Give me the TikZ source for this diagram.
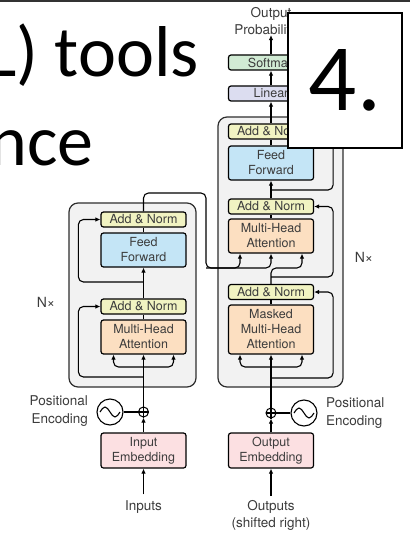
\documentclass[tikz,border=0pt]{standalone}
\usepackage{fontspec}
\setmainfont{TeX Gyre Heros}
\newfontfamily\slidefont{Carlito}
\usetikzlibrary{arrows.meta}

\definecolor{annorm}{HTML}{F1F3C2}
\definecolor{ffblue}{HTML}{C4E5F6}
\definecolor{attorange}{HTML}{FCDFC1}
\definecolor{embpink}{HTML}{FCE0E2}
\definecolor{smgreen}{HTML}{D1EBD4}
\definecolor{linlav}{HTML}{DCDDF0}
\definecolor{stackgray}{HTML}{F2F2F2}
\definecolor{stackedge}{HTML}{2E2E2E}
\definecolor{txtgray}{HTML}{3C3C3C}

\tikzset{
  blk/.style={draw=black, line width=1.2pt, rounded corners=2.5pt, minimum width=85pt,
    inner sep=0pt, align=center, text=txtgray, font=\fontsize{12.5}{15}\selectfont},
  addnorm/.style={blk, fill=annorm, minimum height=15pt},
  sublayer/.style={blk, minimum height=34pt},
  stack/.style={draw=stackedge, fill=stackgray, line width=1.2pt, rounded corners=9pt},
  lbl/.style={text=txtgray, font=\fontsize{13.5}{17.5}\selectfont, inner sep=0pt},
  wire/.style={line width=1.1pt},
  arr/.style={wire, -{Latex[length=5pt,width=4.5pt]}},
  fork/.style={arr, rounded corners=5pt},
  pe/.style={circle, draw, line width=1.1pt, minimum size=26pt, inner sep=0pt},
  plus/.style={circle, draw, line width=1pt, minimum size=10pt, inner sep=0pt},
  bigtext/.style={inner sep=0pt, font=\slidefont\fontsize{72}{72}\selectfont},
}

\begin{document}
\begin{tikzpicture}[x=1pt, y=-1pt]
\useasboundingbox (0,0) rectangle (410,540);
\fill[white] (0,0) rectangle (410,540);
\fill[black!80] (0,0) rectangle (410,2);

% slide text behind the figure
\node[bigtext, anchor=base east] (title1) at (199,77) {L) tools};
\node[bigtext, anchor=base east] (title2) at (94,165) {nce};

% stacks
\draw[stack] (69,203) rectangle (196,387);
\draw[stack] (218,117) rectangle (343,387);
\node[lbl, font=\fontsize{14}{16}\selectfont] (en_n) at (46,302) {N×};
\node[lbl, font=\fontsize{14}{16}\selectfont] (de_n) at (364,257) {N×};

% encoder
\node[addnorm] (en_an2) at (143.5,219.5) {Add \& Norm};
\node[sublayer, fill=ffblue] (en_ff) at (143.5,250) {Feed\\Forward};
\node[addnorm] (en_an1) at (143.5,306.5) {Add \& Norm};
\node[sublayer, fill=attorange] (en_mha) at (143.5,337) {Multi-Head\\Attention};
\node[plus] (en_add) at (143.5,412) {};
\node[pe] (en_pe) at (110,412) {};
\node[lbl, anchor=east, align=right] (en_pelbl) at (88,411) {Positional\\Encoding};
\node[sublayer, fill=embpink, minimum height=35pt] (en_emb) at (143.5,450.5) {Input\\Embedding};
\node[lbl] (inputs) at (143.5,507) {Inputs};

% decoder
\node[lbl, align=center] (outprob) at (271,21) {Output\\Probabilities};
\node[addnorm, fill=smgreen] (softmax) at (271,62.5) {Softmax};
\node[addnorm, fill=linlav] (linear) at (271,93.5) {Linear};
\node[addnorm] (de_an3) at (271,131.5) {Add \& Norm};
\node[sublayer, fill=ffblue] (de_ff) at (271,163) {Feed\\Forward};
\node[addnorm] (de_an2) at (271,206.5) {Add \& Norm};
\node[sublayer, fill=attorange] (de_mha) at (271,236) {Multi-Head\\Attention};
\node[addnorm] (de_an1) at (271,292) {Add \& Norm};
\node[sublayer, fill=attorange, minimum height=49pt] (de_mmha) at (271,329.5) {Masked\\Multi-Head\\Attention};
\node[plus] (de_add) at (271,413) {};
\node[pe] (de_pe) at (304,413) {};
\node[lbl, anchor=west, align=left] (de_pelbl) at (326,413) {Positional\\Encoding};
\node[sublayer, fill=embpink, minimum height=35pt] (de_emb) at (271,450.5) {Output\\Embedding};
\node[lbl, align=center] (outputs) at (271,515.5) {Outputs\\(shifted right)};

% encoder wiring
\coordinate (en_fork) at (143.5,367);
\coordinate (en_r1) at (143.5,377);
\coordinate (en_r2) at (143.5,282);
\coordinate (en_turn) at (206,193);
\coordinate (kv) at (206,268);
\draw[arr] ([yshift=6pt]inputs.north) -- (en_emb.south);
\draw[arr] (en_emb.north) -- (en_add.south);
\draw[wire] (en_pe.east) -- (en_add.west);
\draw[wire] (en_add.north) -- (en_add.south) (en_add.west) -- (en_add.east);
\draw[wire] ([xshift=-10pt]en_pe.center) sin ++(5,-5) cos ++(5,5) sin ++(5,5) cos ++(5,-5);
\draw[arr] (en_add.north) -- (en_mha.south);
\draw[fork] (en_fork) -| ([xshift=-30pt]en_mha.south);
\draw[fork] (en_fork) -| ([xshift=30pt]en_mha.south);
\draw[fork] (en_r1) -| ([xshift=-22pt]en_an1.west) -- (en_an1.west);
\draw[wire] (en_mha.north) -- (en_an1.south);
\draw[arr] (en_an1.north) -- (en_ff.south);
\draw[fork] (en_r2) -| ([xshift=-22pt]en_an2.west) -- (en_an2.west);
\draw[wire] (en_ff.north) -- (en_an2.south);
\draw[fork] (en_an2.north) |- (en_turn) -- (kv) -| (de_mha.south);
\draw[fork] (kv) -| ([xshift=-31pt]de_mha.south);

% decoder wiring
\coordinate (de_fork) at (271,367);
\coordinate (de_r1) at (271,378);
\coordinate (de_r2) at (271,277);
\coordinate (de_q) at (271,268);
\coordinate (de_r3) at (271,190);
\draw[arr] ([yshift=4pt]outputs.north) -- (de_emb.south);
\draw[arr] (de_emb.north) -- (de_add.south);
\draw[wire] (de_pe.west) -- (de_add.east);
\draw[wire] (de_add.north) -- (de_add.south) (de_add.west) -- (de_add.east);
\draw[wire] ([xshift=-10pt]de_pe.center) sin ++(5,-5) cos ++(5,5) sin ++(5,5) cos ++(5,-5);
\draw[arr] (de_add.north) -- (de_mmha.south);
\draw[fork] (de_fork) -| ([xshift=-31pt]de_mmha.south);
\draw[fork] (de_fork) -| ([xshift=31pt]de_mmha.south);
\draw[fork] (de_r1) -| ([xshift=19pt]de_an1.east) -- (de_an1.east);
\draw[wire] (de_mmha.north) -- (de_an1.south);
\draw[fork] (de_an1.north) -- (de_q) -| ([xshift=31pt]de_mha.south);
\draw[fork] (de_r2) -| ([xshift=19pt]de_an2.east) -- (de_an2.east);
\draw[wire] (de_mha.north) -- (de_an2.south);
\draw[arr] (de_an2.north) -- (de_ff.south);
\draw[fork] (de_r3) -| ([xshift=19pt]de_an3.east) -- (de_an3.east);
\draw[wire] (de_ff.north) -- (de_an3.south);
\draw[arr] (de_an3.north) -- (linear.south);
\draw[arr] (linear.north) -- (softmax.south);
\draw[arr] (softmax.north) -- (outprob.south);

% slide number box on top
\node[draw, line width=1.8pt, fill=white, minimum width=114pt, minimum height=135pt,
  inner sep=0pt, font=\slidefont\fontsize{95}{95}\selectfont] (slidenum) at (345,80.5) {4.};
\end{tikzpicture}
\end{document}
